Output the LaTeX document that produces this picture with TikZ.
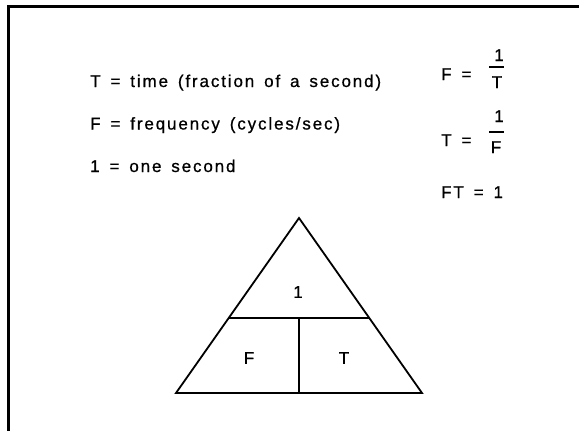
\documentclass[tikz,border=0pt]{standalone}
\usepackage{fontspec}
\setmainfont{Liberation Sans}[LetterSpace=11,WordSpace=1.5,FakeBold=0.8]
\usetikzlibrary{calc}
\begin{document}
\begin{tikzpicture}[x=1pt,y=-1pt,
  txt/.style={inner sep=0pt,anchor=base west,font=\fontsize{17}{20}\selectfont},
  lbl/.style={inner sep=0pt,anchor=center,font=\fontsize{17}{20}\selectfont},
  num/.style={inner sep=0pt,anchor=base,font=\fontsize{17}{20}\selectfont},
  frame/.style={line width=3pt},
  tri/.style={line width=1.8pt,line join=miter},
  bar/.style={line width=1.4pt}]
\useasboundingbox (0,0) rectangle (579,431);
% frame
\draw[frame] (8.5,5) -- (8.5,431);
\draw[frame] (7,6.5) -- (579,6.5);
% definitions
\node[txt] (d1) at (90,87) {T = time (fraction of a second)};
\node[txt] (d2) at (90,129.5) {F = frequency (cycles/sec)};
\node[txt] (d3) at (90,172) {1 = one second};
% formulas
\node[txt] (f1) at (441,80) {F =};
\draw[bar] (489,67) -- (504,67);
\node[num] (f1n) at (499,61) {1};
\node[num] (f1d) at (497,88) {T};
\node[txt] (f2) at (441,146) {T =};
\draw[bar] (489,132) -- (504,132);
\node[num] (f2n) at (499,122) {1};
\node[num] (f2d) at (496,153) {F};
\node[txt] (f3) at (441,198) {FT = 1};
% triangle
\coordinate (A) at (299,218);
\coordinate (B) at (176,393);
\coordinate (C) at (422,393);
\coordinate (L) at ($(A)!0.5714!(B)$);
\coordinate (R) at ($(A)!0.5714!(C)$);
\coordinate (M) at ($(L)!0.5!(R)$);
\coordinate (Mb) at ($(B)!0.5!(C)$);
\draw[tri] (A) -- (B) -- (C) -- cycle;
\draw[tri] (L) -- (R);
\draw[tri] (M) -- (Mb);
\node[lbl] (one) at (298,292) {1};
\node[lbl] (lf) at (249,358) {F};
\node[lbl] (lt) at (344,358) {T};
\end{tikzpicture}
\end{document}
